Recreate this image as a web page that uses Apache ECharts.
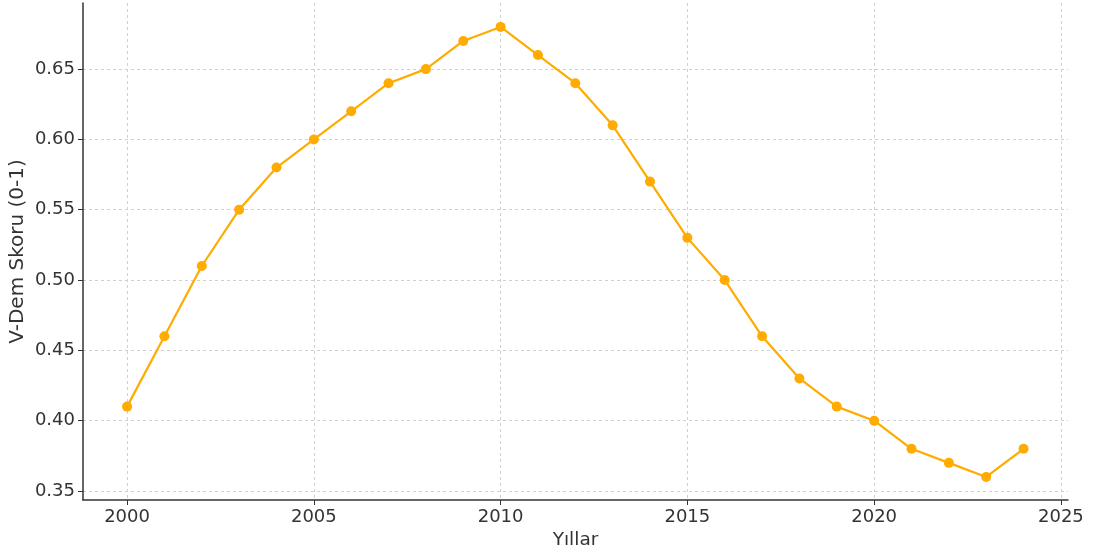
<!DOCTYPE html>
<html>
<head>
<meta charset="utf-8">
<script src="https://cdn.jsdelivr.net/npm/echarts@6/dist/echarts.min.js"></script>
<style>
  html, body { margin: 0; padding: 0; background: #fff; }
  #chart { width: 1095px; height: 558px; }
</style>
</head>
<body>
<div id="chart"></div>
<script>
var years = [2000, 2001, 2002, 2003, 2004, 2005, 2006, 2007, 2008, 2009, 2010, 2011,
             2012, 2013, 2014, 2015, 2016, 2017, 2018, 2019, 2020, 2021, 2022, 2023, 2024];
var scores = [0.41, 0.46, 0.51, 0.55, 0.58, 0.60, 0.62, 0.64, 0.65, 0.67, 0.68, 0.66,
              0.64, 0.61, 0.57, 0.53, 0.50, 0.46, 0.43, 0.41, 0.40, 0.38, 0.37, 0.36, 0.38];
var xTicks = [2000, 2005, 2010, 2015, 2020, 2025];
var yTicks = [0.35, 0.40, 0.45, 0.50, 0.55, 0.60, 0.65];

var points = years.map(function (y, i) { return [y, scores[i]]; });

var chart = echarts.init(document.getElementById("chart"));
var fontFamily = "DejaVu Sans";
var gridLine = { show: true, lineStyle: { color: "#d0d0d0", type: [3, 3], width: 1 } };

chart.setOption({
    animation: false,
    grid: { left: 83, right: 27, top: 3, bottom: 58, outerBoundsMode: "none", containLabel: false },
    xAxis: {
        type: "value",
        min: 1998.82,
        max: 2025.19,
        name: "Yıllar",
        nameLocation: "middle",
        nameGap: 31,
        nameMoveOverlap: false,
        nameTextStyle: { fontFamily: fontFamily, fontSize: 18.5, color: "#333" },
        axisLine: { show: true, lineStyle: { color: "#333", width: 1.5 } },
        axisTick: { show: true, inside: false, length: 5, customValues: xTicks, lineStyle: { color: "#333" } },
        axisLabel: {
            customValues: xTicks,
            fontFamily: fontFamily, fontSize: 18, color: "#333", margin: 8,
            formatter: function (v) { return String(v); }
        },
        splitLine: gridLine
    },
    yAxis: {
        type: "value",
        min: 0.3436,
        max: 0.697,
        name: "V-Dem Skoru (0-1)",
        nameLocation: "middle",
        nameGap: 55,
        nameMoveOverlap: false,
        nameTextStyle: { fontFamily: fontFamily, fontSize: 20, color: "#333" },
        axisLine: { show: true, lineStyle: { color: "#333", width: 1.5 } },
        axisTick: { show: true, inside: false, length: 5, customValues: yTicks, lineStyle: { color: "#333" } },
        axisLabel: {
            customValues: yTicks,
            fontFamily: fontFamily, fontSize: 18, color: "#333", margin: 8,
            formatter: function (v) { return v.toFixed(2); }
        },
        splitLine: gridLine
    },
    series: [{
        type: "line",
        data: points,
        symbol: "circle",
        symbolSize: 10,
        itemStyle: { color: "#ffab00" },
        lineStyle: { color: "#ffab00", width: 2.2 }
    }]
});
</script>
</body>
</html>
